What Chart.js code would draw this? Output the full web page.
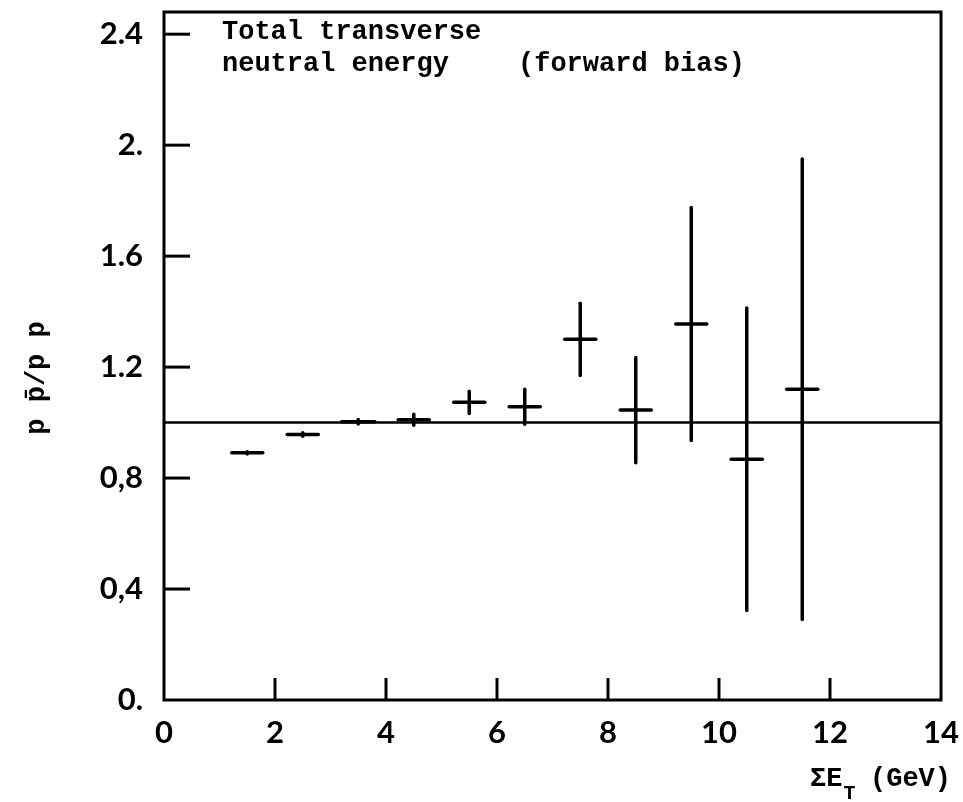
<!DOCTYPE html>
<html><head><meta charset="utf-8">
<script src="https://cdn.jsdelivr.net/npm/chart.js@4.4.1/dist/chart.umd.min.js"></script>
<style>html,body{margin:0;padding:0;background:#fff}#wrap{width:963px;height:802px;position:relative}</style>
</head><body><div id="wrap"><canvas id="c" width="963" height="802"></canvas></div>
<script>
// ---- data ----
const binCenters = [1.5, 2.5, 3.5, 4.5, 5.5, 6.5, 7.5, 8.5, 9.5, 10.5, 11.5];   // ΣE_T (GeV)
const ratios     = [0.891, 0.957, 1.003, 1.010, 1.073, 1.057, 1.300, 1.045, 1.355, 0.868, 1.120];
const ratioErr   = [0.004, 0.006, 0.008, 0.020, 0.040, 0.063, 0.130, 0.190, 0.420, 0.545, 0.830];
const binHalfWidth = [0.28, 0.28, 0.30, 0.28, 0.28, 0.28, 0.28, 0.28, 0.28, 0.28, 0.28];
const referenceLevel = 1.0;
const xTickValues = [0, 2, 4, 6, 8, 10, 12, 14];
const xTickLabels = ["0", "2", "4", "6", "8", "10", "12", "14"];
const yTickValues = [0, 0.4, 0.8, 1.2, 1.6, 2.0, 2.4];
const yTickLabels = ["0.", "0,4", "0,8", "1.2", "1.6", "2.", "2.4"];
const annotationLine1 = "Total transverse";
const annotationLine2 = "neutral energy";
const annotationLine3 = "(forward bias)";
const yTitle = "p p\u0304/p p";

const tickFont = {family: "Lato", weight: "bold", size: 31};
const monoFont = "bold 27px 'Liberation Mono'";

const noPad = s => { s.paddingTop = 0; s.paddingBottom = 0; s.paddingLeft = 0; s.paddingRight = 0; };

const decor = {
  id: 'decor',
  afterDraw(chart) {
    const {ctx, chartArea: a, scales: {x, y}} = chart;
    const line = (x1, y1, x2, y2) => { ctx.beginPath(); ctx.moveTo(x1, y1); ctx.lineTo(x2, y2); ctx.stroke(); };
    ctx.save();
    ctx.strokeStyle = '#000'; ctx.fillStyle = '#000';
    ctx.lineWidth = 3;
    ctx.strokeRect(a.left, a.top, a.right - a.left, a.bottom - a.top);
    // inward ticks
    yTickValues.forEach(v => { if (v === 0) return; const py = y.getPixelForValue(v); line(a.left, py, a.left + 26, py); });
    xTickValues.forEach(v => { if (v === 0 || v === 14) return; const px = x.getPixelForValue(v); line(px, a.bottom, px, a.bottom - 22); });
    // data crosses
    ctx.lineCap = 'round';
    ctx.lineWidth = 3.5;
    binCenters.forEach((c, i) => {
      const px = x.getPixelForValue(c), py = y.getPixelForValue(ratios[i]);
      line(x.getPixelForValue(c - binHalfWidth[i]), py, x.getPixelForValue(c + binHalfWidth[i]), py);
      line(px, y.getPixelForValue(ratios[i] - ratioErr[i]), px, y.getPixelForValue(ratios[i] + ratioErr[i]));
    });
    // annotation
    ctx.font = monoFont; ctx.textBaseline = 'alphabetic'; ctx.textAlign = 'left';
    ctx.fillText(annotationLine1, a.left + 58, 39);
    ctx.fillText(annotationLine2, a.left + 58, 71);
    ctx.fillText(annotationLine3, a.left + 354, 71);
    // x title: ΣE_T (GeV)
    ctx.fillText("\u03A3E", 810, 786);
    const wSE = ctx.measureText("\u03A3E").width;
    ctx.font = "bold 20px 'Liberation Mono'";
    ctx.fillText("T", 810 + wSE + 1, 799);
    ctx.font = monoFont;
    ctx.fillText("(GeV)", 870, 786);
    // y title
    ctx.translate(37, 378);
    ctx.rotate(-Math.PI / 2);
    ctx.textAlign = 'center'; ctx.textBaseline = 'middle';
    ctx.fillText(yTitle, 0, 0);
    ctx.restore();
  }
};

new Chart(document.getElementById('c'), {
  type: 'scatter',
  data: {
    datasets: [{
      type: 'line',
      data: [{x: 0, y: referenceLevel}, {x: 14, y: referenceLevel}],
      borderColor: '#000', borderWidth: 2.5, pointRadius: 0, fill: false
    }, {
      data: binCenters.map((c, i) => ({x: c, y: ratios[i]})),
      pointRadius: 0, borderColor: '#000', backgroundColor: '#000'
    }]
  },
  options: {
    responsive: false, animation: false,
    layout: {padding: {top: 12, right: 22, left: 0, bottom: 0}},
    plugins: {legend: {display: false}, tooltip: {enabled: false}},
    scales: {
      x: {
        type: 'linear', min: 0, max: 14,
        afterBuildTicks: s => { s.ticks = xTickValues.map(v => ({value: v})); },
        afterFit: s => { s.height = 102; noPad(s); },
        grid: {display: false, drawTicks: false},
        border: {display: false},
        ticks: {callback: (v, i) => xTickLabels[i], font: tickFont, color: '#000', padding: 14, maxRotation: 0, autoSkip: false}
      },
      y: {
        min: 0, max: 2.48,
        afterBuildTicks: s => { s.ticks = yTickValues.map(v => ({value: v})); },
        afterFit: s => { s.width = 164; noPad(s); },
        grid: {display: false, drawTicks: false},
        border: {display: false},
        ticks: {callback: (v, i) => yTickLabels[i], font: tickFont, color: '#000', padding: 21, autoSkip: false}
      }
    }
  },
  plugins: [decor]
});
</script>
</body></html>
